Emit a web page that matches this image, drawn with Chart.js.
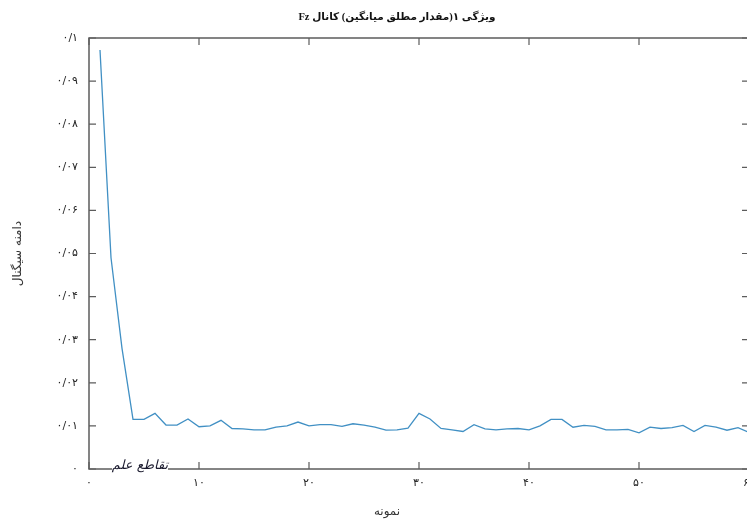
<!DOCTYPE html>
<html>
<head>
<meta charset="utf-8">
<script src="https://cdn.jsdelivr.net/npm/chart.js@4.4.1/dist/chart.umd.min.js"></script>
<style>
  html, body { margin: 0; padding: 0; background: #fff; overflow: hidden; }
  #wrap { width: 747px; height: 524px; overflow: hidden; }
</style>
</head>
<body>
<div id="wrap"><canvas id="featureChart" width="794" height="524" dir="rtl"></canvas></div>
<script>
// sample index (x) and mean absolute value of channel Fz (y)
const samples = [
  1, 2, 3, 4, 5, 6, 7, 8, 9, 10,
  11, 12, 13, 14, 15, 16, 17, 18, 19, 20,
  21, 22, 23, 24, 25, 26, 27, 28, 29, 30,
  31, 32, 33, 34, 35, 36, 37, 38, 39, 40,
  41, 42, 43, 44, 45, 46, 47, 48, 49, 50,
  51, 52, 53, 54, 55, 56, 57, 58, 59, 60
];
const meanAbsFz = [
  0.0972, 0.0490, 0.0280, 0.0115, 0.0115, 0.0129, 0.0102, 0.0102, 0.0116, 0.0098,
  0.0100, 0.0113, 0.0094, 0.0093, 0.0091, 0.0091, 0.0097, 0.0100, 0.0109, 0.0100,
  0.0103, 0.0103, 0.0099, 0.0105, 0.0102, 0.0097, 0.0090, 0.0091, 0.0095, 0.0129,
  0.0116, 0.0094, 0.0091, 0.0087, 0.0103, 0.0093, 0.0091, 0.0093, 0.0094, 0.0091,
  0.0100, 0.0115, 0.0115, 0.0097, 0.0101, 0.0099, 0.0091, 0.0091, 0.0092, 0.0084,
  0.0097, 0.0094, 0.0096, 0.0101, 0.0087, 0.0101, 0.0097, 0.0090, 0.0096, 0.0085
];
const xTickLabels = ['۰', '۱۰', '۲۰', '۳۰', '۴۰', '۵۰', '۶۰'];
const yTickLabels = ['۰', '۰/۰۱', '۰/۰۲', '۰/۰۳', '۰/۰۴', '۰/۰۵', '۰/۰۶', '۰/۰۷', '۰/۰۸', '۰/۰۹', '۰/۱'];

const titleText = 'ویژگی ۱(مقدار مطلق میانگین) کانال Fz';
const xTitle = 'نمونه';
const yTitle = 'دامنه سیگنال';
const logoText = 'تقاطع علم';

// frame round the plot, inward tick marks on all four sides, titles and logo
const frameAndTicks = {
  id: 'frameAndTicks',
  afterDraw(chart) {
    const { ctx, chartArea: a, scales: { x, y } } = chart;
    ctx.save();
    ctx.strokeStyle = '#5c5c5c';
    ctx.lineWidth = 1.5;
    ctx.strokeRect(a.left, a.top, a.right - a.left, a.bottom - a.top);

    ctx.lineWidth = 1.2;
    ctx.beginPath();
    x.ticks.forEach(t => {
      const px = x.getPixelForValue(t.value);
      ctx.moveTo(px, a.bottom); ctx.lineTo(px, a.bottom - 7);
      ctx.moveTo(px, a.top); ctx.lineTo(px, a.top + 7);
    });
    y.ticks.forEach(t => {
      const py = y.getPixelForValue(t.value);
      ctx.moveTo(a.left, py); ctx.lineTo(a.left + 7, py);
      ctx.moveTo(a.right, py); ctx.lineTo(a.right - 7, py);
    });
    ctx.stroke();

    ctx.direction = 'rtl';
    ctx.textAlign = 'center';
    ctx.textBaseline = 'middle';

    ctx.fillStyle = '#111';
    ctx.font = 'bold 10.5px "Liberation Serif", "DejaVu Sans"';
    ctx.fillText(titleText, 397, 17);

    ctx.fillStyle = '#333';
    ctx.font = '12px "DejaVu Sans"';
    ctx.fillText(xTitle, 387, 512);

    // logo sitting on the x axis
    ctx.fillStyle = '#fff';
    ctx.fillRect(a.left + 23, a.bottom - 12, 56, 16);
    ctx.fillStyle = '#1a1a2e';
    ctx.font = 'italic 13px "DejaVu Sans"';
    ctx.fillText(logoText, a.left + 51, a.bottom - 3);
    ctx.restore();
  }
};

new Chart(document.getElementById('featureChart'), {
  type: 'line',
  data: {
    datasets: [{
      data: samples.map((s, i) => ({ x: s, y: meanAbsFz[i] })),
      borderColor: '#4190c4',
      borderWidth: 1.3,
      pointRadius: 0,
      tension: 0,
      fill: false
    }]
  },
  options: {
    responsive: false,
    animation: false,
    layout: { padding: { left: 0, right: 45, top: 38, bottom: 0 } },
    plugins: {
      legend: { display: false },
      tooltip: { enabled: false },
      title: { display: false }
    },
    scales: {
      x: {
        type: 'linear',
        min: 0,
        max: 60,
        grid: { display: false, drawTicks: false },
        border: { display: false },
        ticks: {
          stepSize: 10,
          padding: 8,
          maxRotation: 0,
          color: '#222',
          font: { family: '"DejaVu Sans"', size: 11 },
          callback: (v, i) => xTickLabels[i]
        },
        afterFit(scale) { scale.height = 55; }
      },
      y: {
        min: 0,
        max: 0.1,
        grid: { display: false, drawTicks: false },
        border: { display: false },
        ticks: {
          stepSize: 0.01,
          padding: 11,
          color: '#222',
          font: { family: '"DejaVu Sans"', size: 11 },
          callback: (v, i) => yTickLabels[i]
        },
        title: {
          display: true,
          text: yTitle,
          color: '#333',
          font: { family: '"DejaVu Sans"', size: 12 },
          padding: { top: 11, bottom: 0 }
        },
        afterFit(scale) { scale.width = 89; }
      }
    }
  },
  plugins: [frameAndTicks]
});
</script>
</body>
</html>
